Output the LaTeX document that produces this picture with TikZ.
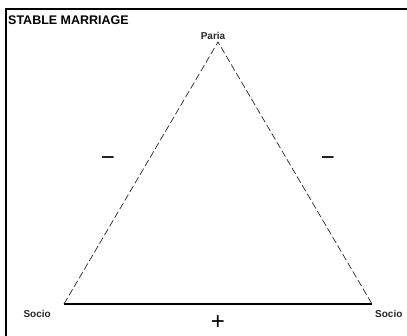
\documentclass[tikz,border=0pt]{standalone}
\usepackage{fontspec}
\setmainfont{Liberation Sans}
\usetikzlibrary{positioning}
\tikzset{
frameline/.style={line width=2pt,black},
sideedge/.style={dash pattern=on 7pt off 3pt,line width=0.7pt,black!85},
baseedge/.style={line width=1.6pt,black},
lbl/.style={font=\bfseries\fontsize{10}{11}\selectfont,inner sep=1pt,black!85},
titlelbl/.style={font=\bfseries\fontsize{12.5}{13}\selectfont,inner sep=0pt,anchor=west},
sign/.style={font=\fontsize{24}{24}\selectfont,inner sep=0pt}
}

\begin{document}
\begin{tikzpicture}[x=1pt,y=-1pt]
\useasboundingbox (0,0) rectangle (407,336);
% frame: top and left only
\draw[frameline] (407,9) -- (6,9) -- (6,336);
\node[titlelbl] (title) at (8,20) {STABLE MARRIAGE};
% triangle corners
\coordinate (apex) at (218,42);
\coordinate (bl) at (64,304);
\coordinate (br) at (372,304);
\coordinate (mid) at (218,304);
\draw[sideedge] (bl) -- (apex) -- (br);
\draw[baseedge] (bl) -- (mid) -- (br);
% labels
\node[lbl,above=1pt of apex,xshift=-5pt] (paria) {Paria};
\node[lbl,below left=5pt and 12pt of bl] (socioL) {Socio};
\node[lbl,below right=5pt and 2pt of br] (socioR) {Socio};
\node[sign] (minusL) at (108,161) {−};
\node[sign] (minusR) at (328,161) {−};
\node[sign,below=11pt of mid] (plus) {+};
\end{tikzpicture}
\end{document}
